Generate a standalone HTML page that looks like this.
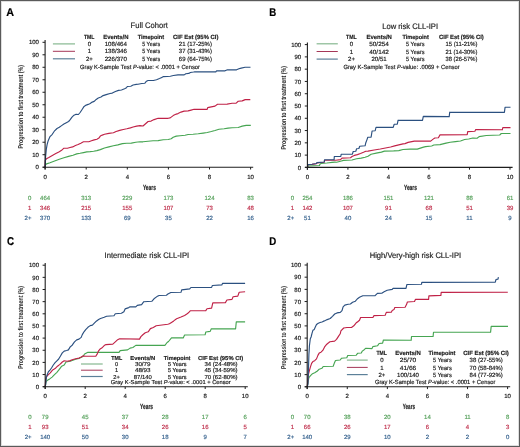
<!DOCTYPE html>
<html><head><meta charset="utf-8"><style>
html,body{margin:0;padding:0;background:#fff;}
body{width:520px;height:447px;overflow:hidden;font-family:"Liberation Sans",sans-serif;}
svg{display:block;will-change:transform;} text{text-rendering:geometricPrecision;}
</style></head><body>
<svg width="520" height="447" viewBox="0 0 520 447" font-family="Liberation Sans, sans-serif" fill="#222222">
<rect width="520" height="447" fill="#fff"/>
<text x="6.30" y="15.70" font-size="11.3" stroke="#000" stroke-width="0.18" font-weight="bold" fill="#000" textLength="7.80" lengthAdjust="spacingAndGlyphs">A</text>
<text x="130.60" y="28.30" font-size="8.0" stroke="#222222" stroke-width="0.18" textLength="37.30" lengthAdjust="spacingAndGlyphs">Full Cohort</text>
<path d="M45.10,167.20 L45.30,165.10 L46.50,163.90 L50.00,162.80 L54.60,161.00 L59.30,159.30 L63.90,157.80 L68.60,156.40 L73.00,155.20 L76.70,153.90 L80.10,153.30 L83.50,152.60 L86.80,151.90 L90.20,151.60 L93.60,151.20 L96.90,150.60 L100.30,149.60 L104.50,148.00 L108.90,146.90 L113.40,145.80 L117.90,144.90 L122.40,143.60 L126.80,143.30 L131.30,143.10 L135.80,142.20 L140.00,141.80 L143.00,141.80 L148.10,141.30 L153.10,140.80 L158.10,140.60 L163.20,139.80 L168.20,139.50 L171.20,138.80 L173.20,137.30 L176.30,136.10 L180.00,135.80 L185.10,135.30 L188.10,134.50 L193.10,134.30 L198.20,133.80 L203.20,133.10 L207.20,132.50 L211.30,131.50 L215.00,130.50 L219.00,129.30 L224.10,128.80 L228.10,128.10 L232.10,127.80 L238.20,127.50 L242.20,126.10 L246.20,125.40 L250.80,125.40" fill="none" stroke="#46a552" stroke-width="1.15" stroke-linejoin="round"/>
<path d="M45.10,167.20 L45.30,160.40 L46.50,158.70 L48.80,157.50 L52.30,155.40 L55.80,153.50 L59.30,151.70 L61.60,150.30 L63.90,148.20 L67.40,148.20 L70.00,147.50 L72.70,146.90 L75.40,145.50 L78.10,144.50 L80.80,143.20 L83.50,141.80 L88.80,141.70 L91.50,140.80 L94.20,139.90 L96.90,139.30 L98.90,138.10 L100.30,136.10 L102.30,135.10 L104.50,134.30 L108.90,133.40 L113.40,132.80 L116.10,131.50 L119.70,130.40 L123.30,129.50 L126.80,128.80 L130.40,127.90 L133.10,127.00 L136.70,126.10 L140.00,125.60 L143.00,126.00 L145.00,124.20 L148.10,121.50 L151.10,121.10 L154.10,119.60 L158.10,118.30 L168.20,118.30 L170.20,117.90 L173.20,115.60 L176.30,114.10 L178.00,113.60 L181.00,112.10 L184.10,111.10 L188.10,110.90 L191.10,110.10 L194.10,109.30 L207.20,109.30 L207.70,107.60 L211.30,106.90 L215.00,106.10 L217.50,104.30 L227.10,104.10 L232.10,103.30 L236.20,103.10 L238.20,101.30 L242.20,100.90 L245.20,99.60 L250.30,99.60" fill="none" stroke="#c02247" stroke-width="1.15" stroke-linejoin="round"/>
<path d="M45.10,167.20 L45.30,164.50 L45.60,156.40 L46.30,149.40 L47.10,144.70 L48.20,140.70 L50.00,136.60 L52.30,134.30 L54.60,130.80 L57.00,128.50 L59.30,127.30 L61.60,125.60 L63.90,124.00 L66.30,122.70 L68.60,121.50 L70.00,119.90 L72.00,117.20 L74.00,115.20 L76.10,114.20 L78.40,114.50 L80.10,112.50 L82.10,109.50 L84.10,106.40 L86.20,105.10 L88.20,104.40 L90.20,103.40 L92.20,102.10 L94.20,101.40 L96.20,99.40 L98.30,98.00 L101.00,97.00 L103.10,95.60 L106.20,94.60 L110.00,93.50 L112.30,93.10 L115.40,91.50 L118.50,90.40 L121.50,90.00 L124.60,88.80 L126.50,87.70 L127.30,86.50 L130.80,86.20 L133.10,85.00 L136.20,84.40 L138.00,84.30 L141.80,83.50 L144.90,83.20 L146.50,81.20 L148.00,80.50 L153.40,80.50 L156.50,79.70 L159.50,78.50 L161.80,77.40 L163.40,76.60 L167.20,76.50 L170.30,76.20 L173.40,75.50 L178.00,74.90 L184.20,74.90 L185.80,73.80 L188.80,73.40 L190.40,72.50 L193.50,72.00 L195.00,71.70 L215.80,71.80 L216.60,70.80 L225.10,70.80 L227.40,69.80 L236.60,69.80 L238.90,68.80 L241.20,68.10 L245.10,67.30 L250.50,67.20" fill="none" stroke="#2b5080" stroke-width="1.15" stroke-linejoin="round"/>
<line x1="45.10" y1="40.10" x2="45.10" y2="169.50" stroke="#1e1e1e" stroke-width="1.1"/>
<line x1="42.70" y1="167.20" x2="253.20" y2="167.20" stroke="#1e1e1e" stroke-width="1.1"/>
<line x1="42.50" y1="167.20" x2="45.10" y2="167.20" stroke="#1e1e1e" stroke-width="1.0"/>
<text x="38.90" y="169.35" font-size="6.0" stroke="#222222" stroke-width="0.18" text-anchor="end">0</text>
<line x1="42.50" y1="154.71" x2="45.10" y2="154.71" stroke="#1e1e1e" stroke-width="1.0"/>
<text x="38.90" y="156.86" font-size="6.0" stroke="#222222" stroke-width="0.18" text-anchor="end">10</text>
<line x1="42.50" y1="142.22" x2="45.10" y2="142.22" stroke="#1e1e1e" stroke-width="1.0"/>
<text x="38.90" y="144.37" font-size="6.0" stroke="#222222" stroke-width="0.18" text-anchor="end">20</text>
<line x1="42.50" y1="129.73" x2="45.10" y2="129.73" stroke="#1e1e1e" stroke-width="1.0"/>
<text x="38.90" y="131.88" font-size="6.0" stroke="#222222" stroke-width="0.18" text-anchor="end">30</text>
<line x1="42.50" y1="117.24" x2="45.10" y2="117.24" stroke="#1e1e1e" stroke-width="1.0"/>
<text x="38.90" y="119.39" font-size="6.0" stroke="#222222" stroke-width="0.18" text-anchor="end">40</text>
<line x1="42.50" y1="104.75" x2="45.10" y2="104.75" stroke="#1e1e1e" stroke-width="1.0"/>
<text x="38.90" y="106.90" font-size="6.0" stroke="#222222" stroke-width="0.18" text-anchor="end">50</text>
<line x1="42.50" y1="92.26" x2="45.10" y2="92.26" stroke="#1e1e1e" stroke-width="1.0"/>
<text x="38.90" y="94.41" font-size="6.0" stroke="#222222" stroke-width="0.18" text-anchor="end">60</text>
<line x1="42.50" y1="79.77" x2="45.10" y2="79.77" stroke="#1e1e1e" stroke-width="1.0"/>
<text x="38.90" y="81.92" font-size="6.0" stroke="#222222" stroke-width="0.18" text-anchor="end">70</text>
<line x1="42.50" y1="67.28" x2="45.10" y2="67.28" stroke="#1e1e1e" stroke-width="1.0"/>
<text x="38.90" y="69.43" font-size="6.0" stroke="#222222" stroke-width="0.18" text-anchor="end">80</text>
<line x1="42.50" y1="54.79" x2="45.10" y2="54.79" stroke="#1e1e1e" stroke-width="1.0"/>
<text x="38.90" y="56.94" font-size="6.0" stroke="#222222" stroke-width="0.18" text-anchor="end">90</text>
<line x1="42.50" y1="42.30" x2="45.10" y2="42.30" stroke="#1e1e1e" stroke-width="1.0"/>
<text x="38.90" y="44.45" font-size="6.0" stroke="#222222" stroke-width="0.18" text-anchor="end">100</text>
<line x1="45.10" y1="167.20" x2="45.10" y2="169.50" stroke="#1e1e1e" stroke-width="1.0"/>
<text x="45.10" y="178.55" font-size="6.0" stroke="#222222" stroke-width="0.18" text-anchor="middle">0</text>
<line x1="86.20" y1="167.20" x2="86.20" y2="169.50" stroke="#1e1e1e" stroke-width="1.0"/>
<text x="86.20" y="178.55" font-size="6.0" stroke="#222222" stroke-width="0.18" text-anchor="middle">2</text>
<line x1="127.30" y1="167.20" x2="127.30" y2="169.50" stroke="#1e1e1e" stroke-width="1.0"/>
<text x="127.30" y="178.55" font-size="6.0" stroke="#222222" stroke-width="0.18" text-anchor="middle">4</text>
<line x1="168.40" y1="167.20" x2="168.40" y2="169.50" stroke="#1e1e1e" stroke-width="1.0"/>
<text x="168.40" y="178.55" font-size="6.0" stroke="#222222" stroke-width="0.18" text-anchor="middle">6</text>
<line x1="209.50" y1="167.20" x2="209.50" y2="169.50" stroke="#1e1e1e" stroke-width="1.0"/>
<text x="209.50" y="178.55" font-size="6.0" stroke="#222222" stroke-width="0.18" text-anchor="middle">8</text>
<line x1="250.60" y1="167.20" x2="250.60" y2="169.50" stroke="#1e1e1e" stroke-width="1.0"/>
<text x="250.60" y="178.55" font-size="6.0" stroke="#222222" stroke-width="0.18" text-anchor="middle">10</text>
<text x="142.90" y="189.52" font-size="7.6" stroke="#222222" stroke-width="0.18" font-weight="bold" textLength="13.00" lengthAdjust="spacingAndGlyphs">Years</text>
<text transform="translate(23.30,106.80) rotate(-90)" x="-41.70" y="0" font-size="7" font-weight="bold" textLength="83.40" lengthAdjust="spacingAndGlyphs">Progression to first treatment (%)</text>
<text x="31.40" y="200.15" font-size="6.0" stroke="#5aa35f" stroke-width="0.18" fill="#5aa35f" text-anchor="end">0</text>
<text x="45.10" y="200.15" font-size="6.0" stroke="#5aa35f" stroke-width="0.18" fill="#5aa35f" text-anchor="middle">464</text>
<text x="86.20" y="200.15" font-size="6.0" stroke="#5aa35f" stroke-width="0.18" fill="#5aa35f" text-anchor="middle">313</text>
<text x="127.30" y="200.15" font-size="6.0" stroke="#5aa35f" stroke-width="0.18" fill="#5aa35f" text-anchor="middle">229</text>
<text x="168.40" y="200.15" font-size="6.0" stroke="#5aa35f" stroke-width="0.18" fill="#5aa35f" text-anchor="middle">173</text>
<text x="209.50" y="200.15" font-size="6.0" stroke="#5aa35f" stroke-width="0.18" fill="#5aa35f" text-anchor="middle">124</text>
<text x="250.60" y="200.15" font-size="6.0" stroke="#5aa35f" stroke-width="0.18" fill="#5aa35f" text-anchor="middle">83</text>
<text x="31.40" y="209.95" font-size="6.0" stroke="#c0334f" stroke-width="0.18" fill="#c0334f" text-anchor="end">1</text>
<text x="45.10" y="209.95" font-size="6.0" stroke="#c0334f" stroke-width="0.18" fill="#c0334f" text-anchor="middle">346</text>
<text x="86.20" y="209.95" font-size="6.0" stroke="#c0334f" stroke-width="0.18" fill="#c0334f" text-anchor="middle">215</text>
<text x="127.30" y="209.95" font-size="6.0" stroke="#c0334f" stroke-width="0.18" fill="#c0334f" text-anchor="middle">155</text>
<text x="168.40" y="209.95" font-size="6.0" stroke="#c0334f" stroke-width="0.18" fill="#c0334f" text-anchor="middle">107</text>
<text x="209.50" y="209.95" font-size="6.0" stroke="#c0334f" stroke-width="0.18" fill="#c0334f" text-anchor="middle">73</text>
<text x="250.60" y="209.95" font-size="6.0" stroke="#c0334f" stroke-width="0.18" fill="#c0334f" text-anchor="middle">48</text>
<text x="31.40" y="219.75" font-size="6.0" stroke="#3a6590" stroke-width="0.18" fill="#3a6590" text-anchor="end">2+</text>
<text x="45.10" y="219.75" font-size="6.0" stroke="#3a6590" stroke-width="0.18" fill="#3a6590" text-anchor="middle">370</text>
<text x="86.20" y="219.75" font-size="6.0" stroke="#3a6590" stroke-width="0.18" fill="#3a6590" text-anchor="middle">133</text>
<text x="127.30" y="219.75" font-size="6.0" stroke="#3a6590" stroke-width="0.18" fill="#3a6590" text-anchor="middle">69</text>
<text x="168.40" y="219.75" font-size="6.0" stroke="#3a6590" stroke-width="0.18" fill="#3a6590" text-anchor="middle">35</text>
<text x="209.50" y="219.75" font-size="6.0" stroke="#3a6590" stroke-width="0.18" fill="#3a6590" text-anchor="middle">22</text>
<text x="250.60" y="219.75" font-size="6.0" stroke="#3a6590" stroke-width="0.18" fill="#3a6590" text-anchor="middle">16</text>
<line x1="52.90" y1="43.90" x2="75.00" y2="43.90" stroke="#86b890" stroke-width="1.2"/>
<line x1="52.90" y1="51.30" x2="75.00" y2="51.30" stroke="#a02c4e" stroke-width="0.95"/>
<line x1="52.90" y1="58.80" x2="75.00" y2="58.80" stroke="#5c8099" stroke-width="1.2"/>
<text x="83.90" y="38.65" font-size="6.0" stroke="#222222" stroke-width="0.18" font-weight="bold" textLength="10.50" lengthAdjust="spacingAndGlyphs">TML</text>
<text x="103.20" y="38.65" font-size="6.0" stroke="#222222" stroke-width="0.18" font-weight="bold" textLength="25.30" lengthAdjust="spacingAndGlyphs">Events/N</text>
<text x="137.70" y="38.65" font-size="6.0" stroke="#222222" stroke-width="0.18" font-weight="bold" textLength="26.40" lengthAdjust="spacingAndGlyphs">Timepoint</text>
<text x="173.00" y="38.65" font-size="6.0" stroke="#222222" stroke-width="0.18" font-weight="bold" textLength="45.50" lengthAdjust="spacingAndGlyphs">CIF Est (95% CI)</text>
<text x="89.40" y="46.05" font-size="6.0" stroke="#222222" stroke-width="0.18" text-anchor="middle">0</text>
<text x="104.70" y="46.05" font-size="6.0" stroke="#222222" stroke-width="0.18" textLength="22.30" lengthAdjust="spacingAndGlyphs">108/464</text>
<text x="142.20" y="46.05" font-size="6.0" stroke="#222222" stroke-width="0.18" textLength="17.90" lengthAdjust="spacingAndGlyphs">5 Years</text>
<text x="178.80" y="46.05" font-size="6.0" stroke="#222222" stroke-width="0.18" textLength="33.20" lengthAdjust="spacingAndGlyphs">21 (17-25%)</text>
<text x="89.40" y="53.45" font-size="6.0" stroke="#222222" stroke-width="0.18" text-anchor="middle">1</text>
<text x="104.70" y="53.45" font-size="6.0" stroke="#222222" stroke-width="0.18" textLength="22.30" lengthAdjust="spacingAndGlyphs">138/346</text>
<text x="142.20" y="53.45" font-size="6.0" stroke="#222222" stroke-width="0.18" textLength="17.90" lengthAdjust="spacingAndGlyphs">5 Years</text>
<text x="178.80" y="53.45" font-size="6.0" stroke="#222222" stroke-width="0.18" textLength="33.20" lengthAdjust="spacingAndGlyphs">37 (31-43%)</text>
<text x="89.40" y="60.95" font-size="6.0" stroke="#222222" stroke-width="0.18" text-anchor="middle">2+</text>
<text x="104.70" y="60.95" font-size="6.0" stroke="#222222" stroke-width="0.18" textLength="22.30" lengthAdjust="spacingAndGlyphs">226/370</text>
<text x="142.20" y="60.95" font-size="6.0" stroke="#222222" stroke-width="0.18" textLength="17.90" lengthAdjust="spacingAndGlyphs">5 Years</text>
<text x="178.80" y="60.95" font-size="6.0" stroke="#222222" stroke-width="0.18" textLength="33.20" lengthAdjust="spacingAndGlyphs">69 (64-75%)</text>
<text x="80.10" y="68.75" font-size="6.0" stroke="#222222" stroke-width="0.18" textLength="119.80" lengthAdjust="spacingAndGlyphs">Gray K-Sample Test <tspan font-style="italic">P</tspan>-value: &lt; .0001 + Censor</text>
<text x="269.20" y="15.70" font-size="11.3" stroke="#000" stroke-width="0.18" font-weight="bold" fill="#000" textLength="7.00" lengthAdjust="spacingAndGlyphs">B</text>
<text x="382.30" y="28.60" font-size="8.0" stroke="#222222" stroke-width="0.18" textLength="55.70" lengthAdjust="spacingAndGlyphs">Low risk CLL-IPI</text>
<path d="M307.60,167.20 L308.00,166.00 L319.50,165.50 L319.80,164.40 L321.00,163.50 L326.80,163.00 L329.10,162.70 L332.00,162.40 L334.90,162.10 L336.60,162.20 L340.50,161.20 L343.50,160.40 L352.00,160.00 L356.60,158.80 L361.20,158.10 L365.10,157.30 L368.00,156.20 L371.10,154.20 L376.20,153.10 L381.40,152.10 L384.50,151.10 L393.70,150.90 L398.80,150.60 L403.00,149.50 L410.10,149.10 L417.30,149.10 L423.50,147.10 L425.60,146.60 L431.70,146.00 L433.80,145.00 L440.00,144.60 L446.10,143.10 L450.20,142.30 L455.40,141.60 L460.50,141.00 L464.60,139.50 L468.70,139.00 L472.90,138.00 L477.10,138.20 L479.10,136.60 L486.30,135.50 L499.70,135.00 L501.30,133.50 L510.50,133.50" fill="none" stroke="#46a552" stroke-width="1.15" stroke-linejoin="round"/>
<path d="M307.60,167.20 L307.80,164.80 L312.00,164.40 L316.40,163.70 L317.00,162.90 L324.30,162.20 L324.50,160.30 L334.10,160.20 L335.80,160.20 L340.50,159.60 L342.00,158.10 L350.50,157.70 L352.00,156.50 L354.30,155.40 L357.40,154.60 L360.50,153.50 L363.50,152.30 L365.80,151.20 L368.00,151.10 L374.20,150.00 L380.30,149.00 L385.50,148.00 L390.60,147.00 L394.70,145.90 L398.80,144.90 L403.00,143.90 L405.00,143.60 L408.10,142.40 L414.30,141.10 L430.70,141.10 L432.80,139.40 L434.80,138.00 L438.40,137.80 L440.00,134.90 L467.20,134.70 L467.70,131.60 L474.90,131.30 L475.70,129.60 L502.30,129.80 L502.80,127.60 L510.50,127.60" fill="none" stroke="#c02247" stroke-width="1.15" stroke-linejoin="round"/>
<path d="M307.60,167.20 L307.80,164.60 L312.00,164.20 L316.40,163.50 L317.00,162.60 L324.30,162.00 L324.50,159.80 L334.10,159.70 L334.30,156.50 L340.80,156.50 L341.20,154.20 L352.40,154.20 L353.20,151.50 L355.80,151.20 L356.60,148.80 L358.90,148.50 L359.70,146.20 L365.10,145.80 L365.80,142.70 L367.00,139.60 L367.80,137.30 L371.10,137.20 L372.10,131.00 L375.20,130.70 L376.00,127.40 L393.20,127.40 L394.20,124.30 L397.30,124.10 L398.10,120.20 L422.50,120.30 L423.30,116.40 L449.20,116.60 L449.70,112.20 L504.40,112.40 L505.10,107.20 L510.50,107.20" fill="none" stroke="#2b5080" stroke-width="1.15" stroke-linejoin="round"/>
<line x1="307.40" y1="42.40" x2="307.40" y2="169.70" stroke="#1e1e1e" stroke-width="1.1"/>
<line x1="305.00" y1="167.40" x2="512.60" y2="167.40" stroke="#1e1e1e" stroke-width="1.1"/>
<line x1="304.80" y1="167.40" x2="307.40" y2="167.40" stroke="#1e1e1e" stroke-width="1.0"/>
<text x="301.20" y="169.55" font-size="6.0" stroke="#222222" stroke-width="0.18" text-anchor="end">0</text>
<line x1="304.80" y1="155.12" x2="307.40" y2="155.12" stroke="#1e1e1e" stroke-width="1.0"/>
<text x="301.20" y="157.27" font-size="6.0" stroke="#222222" stroke-width="0.18" text-anchor="end">10</text>
<line x1="304.80" y1="142.84" x2="307.40" y2="142.84" stroke="#1e1e1e" stroke-width="1.0"/>
<text x="301.20" y="144.99" font-size="6.0" stroke="#222222" stroke-width="0.18" text-anchor="end">20</text>
<line x1="304.80" y1="130.56" x2="307.40" y2="130.56" stroke="#1e1e1e" stroke-width="1.0"/>
<text x="301.20" y="132.71" font-size="6.0" stroke="#222222" stroke-width="0.18" text-anchor="end">30</text>
<line x1="304.80" y1="118.28" x2="307.40" y2="118.28" stroke="#1e1e1e" stroke-width="1.0"/>
<text x="301.20" y="120.43" font-size="6.0" stroke="#222222" stroke-width="0.18" text-anchor="end">40</text>
<line x1="304.80" y1="106.00" x2="307.40" y2="106.00" stroke="#1e1e1e" stroke-width="1.0"/>
<text x="301.20" y="108.15" font-size="6.0" stroke="#222222" stroke-width="0.18" text-anchor="end">50</text>
<line x1="304.80" y1="93.72" x2="307.40" y2="93.72" stroke="#1e1e1e" stroke-width="1.0"/>
<text x="301.20" y="95.87" font-size="6.0" stroke="#222222" stroke-width="0.18" text-anchor="end">60</text>
<line x1="304.80" y1="81.44" x2="307.40" y2="81.44" stroke="#1e1e1e" stroke-width="1.0"/>
<text x="301.20" y="83.59" font-size="6.0" stroke="#222222" stroke-width="0.18" text-anchor="end">70</text>
<line x1="304.80" y1="69.16" x2="307.40" y2="69.16" stroke="#1e1e1e" stroke-width="1.0"/>
<text x="301.20" y="71.31" font-size="6.0" stroke="#222222" stroke-width="0.18" text-anchor="end">80</text>
<line x1="304.80" y1="56.88" x2="307.40" y2="56.88" stroke="#1e1e1e" stroke-width="1.0"/>
<text x="301.20" y="59.03" font-size="6.0" stroke="#222222" stroke-width="0.18" text-anchor="end">90</text>
<line x1="304.80" y1="44.60" x2="307.40" y2="44.60" stroke="#1e1e1e" stroke-width="1.0"/>
<text x="301.20" y="46.75" font-size="6.0" stroke="#222222" stroke-width="0.18" text-anchor="end">100</text>
<line x1="307.40" y1="167.40" x2="307.40" y2="169.70" stroke="#1e1e1e" stroke-width="1.0"/>
<text x="307.40" y="178.55" font-size="6.0" stroke="#222222" stroke-width="0.18" text-anchor="middle">0</text>
<line x1="347.92" y1="167.40" x2="347.92" y2="169.70" stroke="#1e1e1e" stroke-width="1.0"/>
<text x="347.92" y="178.55" font-size="6.0" stroke="#222222" stroke-width="0.18" text-anchor="middle">2</text>
<line x1="388.44" y1="167.40" x2="388.44" y2="169.70" stroke="#1e1e1e" stroke-width="1.0"/>
<text x="388.44" y="178.55" font-size="6.0" stroke="#222222" stroke-width="0.18" text-anchor="middle">4</text>
<line x1="428.96" y1="167.40" x2="428.96" y2="169.70" stroke="#1e1e1e" stroke-width="1.0"/>
<text x="428.96" y="178.55" font-size="6.0" stroke="#222222" stroke-width="0.18" text-anchor="middle">6</text>
<line x1="469.48" y1="167.40" x2="469.48" y2="169.70" stroke="#1e1e1e" stroke-width="1.0"/>
<text x="469.48" y="178.55" font-size="6.0" stroke="#222222" stroke-width="0.18" text-anchor="middle">8</text>
<line x1="510.00" y1="167.40" x2="510.00" y2="169.70" stroke="#1e1e1e" stroke-width="1.0"/>
<text x="510.00" y="178.55" font-size="6.0" stroke="#222222" stroke-width="0.18" text-anchor="middle">10</text>
<text x="403.90" y="189.52" font-size="7.6" stroke="#222222" stroke-width="0.18" font-weight="bold" textLength="13.10" lengthAdjust="spacingAndGlyphs">Years</text>
<text transform="translate(285.50,107.80) rotate(-90)" x="-41.70" y="0" font-size="7" font-weight="bold" textLength="83.40" lengthAdjust="spacingAndGlyphs">Progression to first treatment (%)</text>
<text x="294.20" y="200.15" font-size="6.0" stroke="#5aa35f" stroke-width="0.18" fill="#5aa35f" text-anchor="end">0</text>
<text x="307.40" y="200.15" font-size="6.0" stroke="#5aa35f" stroke-width="0.18" fill="#5aa35f" text-anchor="middle">254</text>
<text x="347.92" y="200.15" font-size="6.0" stroke="#5aa35f" stroke-width="0.18" fill="#5aa35f" text-anchor="middle">186</text>
<text x="388.44" y="200.15" font-size="6.0" stroke="#5aa35f" stroke-width="0.18" fill="#5aa35f" text-anchor="middle">151</text>
<text x="428.96" y="200.15" font-size="6.0" stroke="#5aa35f" stroke-width="0.18" fill="#5aa35f" text-anchor="middle">121</text>
<text x="469.48" y="200.15" font-size="6.0" stroke="#5aa35f" stroke-width="0.18" fill="#5aa35f" text-anchor="middle">88</text>
<text x="510.00" y="200.15" font-size="6.0" stroke="#5aa35f" stroke-width="0.18" fill="#5aa35f" text-anchor="middle">61</text>
<text x="294.20" y="209.95" font-size="6.0" stroke="#c0334f" stroke-width="0.18" fill="#c0334f" text-anchor="end">1</text>
<text x="307.40" y="209.95" font-size="6.0" stroke="#c0334f" stroke-width="0.18" fill="#c0334f" text-anchor="middle">142</text>
<text x="347.92" y="209.95" font-size="6.0" stroke="#c0334f" stroke-width="0.18" fill="#c0334f" text-anchor="middle">107</text>
<text x="388.44" y="209.95" font-size="6.0" stroke="#c0334f" stroke-width="0.18" fill="#c0334f" text-anchor="middle">91</text>
<text x="428.96" y="209.95" font-size="6.0" stroke="#c0334f" stroke-width="0.18" fill="#c0334f" text-anchor="middle">68</text>
<text x="469.48" y="209.95" font-size="6.0" stroke="#c0334f" stroke-width="0.18" fill="#c0334f" text-anchor="middle">51</text>
<text x="510.00" y="209.95" font-size="6.0" stroke="#c0334f" stroke-width="0.18" fill="#c0334f" text-anchor="middle">39</text>
<text x="294.20" y="219.75" font-size="6.0" stroke="#3a6590" stroke-width="0.18" fill="#3a6590" text-anchor="end">2+</text>
<text x="307.40" y="219.75" font-size="6.0" stroke="#3a6590" stroke-width="0.18" fill="#3a6590" text-anchor="middle">51</text>
<text x="347.92" y="219.75" font-size="6.0" stroke="#3a6590" stroke-width="0.18" fill="#3a6590" text-anchor="middle">40</text>
<text x="388.44" y="219.75" font-size="6.0" stroke="#3a6590" stroke-width="0.18" fill="#3a6590" text-anchor="middle">24</text>
<text x="428.96" y="219.75" font-size="6.0" stroke="#3a6590" stroke-width="0.18" fill="#3a6590" text-anchor="middle">15</text>
<text x="469.48" y="219.75" font-size="6.0" stroke="#3a6590" stroke-width="0.18" fill="#3a6590" text-anchor="middle">11</text>
<text x="510.00" y="219.75" font-size="6.0" stroke="#3a6590" stroke-width="0.18" fill="#3a6590" text-anchor="middle">9</text>
<line x1="316.60" y1="43.80" x2="337.80" y2="43.80" stroke="#86b890" stroke-width="1.2"/>
<line x1="316.60" y1="51.50" x2="337.80" y2="51.50" stroke="#a02c4e" stroke-width="0.95"/>
<line x1="316.60" y1="59.10" x2="337.80" y2="59.10" stroke="#5c8099" stroke-width="1.2"/>
<text x="346.00" y="38.55" font-size="6.0" stroke="#222222" stroke-width="0.18" font-weight="bold" textLength="10.60" lengthAdjust="spacingAndGlyphs">TML</text>
<text x="366.60" y="38.55" font-size="6.0" stroke="#222222" stroke-width="0.18" font-weight="bold" textLength="25.30" lengthAdjust="spacingAndGlyphs">Events/N</text>
<text x="402.50" y="38.55" font-size="6.0" stroke="#222222" stroke-width="0.18" font-weight="bold" textLength="26.30" lengthAdjust="spacingAndGlyphs">Timepoint</text>
<text x="439.10" y="38.55" font-size="6.0" stroke="#222222" stroke-width="0.18" font-weight="bold" textLength="44.70" lengthAdjust="spacingAndGlyphs">CIF Est (95% CI)</text>
<text x="351.50" y="45.95" font-size="6.0" stroke="#222222" stroke-width="0.18" text-anchor="middle">0</text>
<text x="369.20" y="45.95" font-size="6.0" stroke="#222222" stroke-width="0.18" textLength="19.70" lengthAdjust="spacingAndGlyphs">50/254</text>
<text x="406.10" y="45.95" font-size="6.0" stroke="#222222" stroke-width="0.18" textLength="18.40" lengthAdjust="spacingAndGlyphs">5 Years</text>
<text x="445.50" y="45.95" font-size="6.0" stroke="#222222" stroke-width="0.18" textLength="31.90" lengthAdjust="spacingAndGlyphs">15 (11-21%)</text>
<text x="351.50" y="53.65" font-size="6.0" stroke="#222222" stroke-width="0.18" text-anchor="middle">1</text>
<text x="369.20" y="53.65" font-size="6.0" stroke="#222222" stroke-width="0.18" textLength="19.70" lengthAdjust="spacingAndGlyphs">40/142</text>
<text x="406.10" y="53.65" font-size="6.0" stroke="#222222" stroke-width="0.18" textLength="18.40" lengthAdjust="spacingAndGlyphs">5 Years</text>
<text x="445.50" y="53.65" font-size="6.0" stroke="#222222" stroke-width="0.18" textLength="31.90" lengthAdjust="spacingAndGlyphs">21 (14-30%)</text>
<text x="351.50" y="61.25" font-size="6.0" stroke="#222222" stroke-width="0.18" text-anchor="middle">2+</text>
<text x="371.50" y="61.25" font-size="6.0" stroke="#222222" stroke-width="0.18" textLength="15.10" lengthAdjust="spacingAndGlyphs">20/51</text>
<text x="406.10" y="61.25" font-size="6.0" stroke="#222222" stroke-width="0.18" textLength="18.40" lengthAdjust="spacingAndGlyphs">5 Years</text>
<text x="445.50" y="61.25" font-size="6.0" stroke="#222222" stroke-width="0.18" textLength="31.90" lengthAdjust="spacingAndGlyphs">38 (26-57%)</text>
<text x="343.40" y="68.85" font-size="6.0" stroke="#222222" stroke-width="0.18" textLength="116.30" lengthAdjust="spacingAndGlyphs">Gray K-Sample Test <tspan font-style="italic">P</tspan>-value: .0069 + Censor</text>
<text x="7.00" y="245.00" font-size="11.3" stroke="#000" stroke-width="0.18" font-weight="bold" fill="#000" textLength="7.10" lengthAdjust="spacingAndGlyphs">C</text>
<text x="104.60" y="258.00" font-size="8.0" stroke="#222222" stroke-width="0.18" textLength="84.60" lengthAdjust="spacingAndGlyphs">Intermediate risk CLL-IPI</text>
<path d="M45.20,386.70 L46.00,381.50 L47.80,380.10 L49.70,378.90 L52.10,377.10 L54.50,374.70 L56.90,372.30 L59.30,369.30 L61.70,366.20 L64.20,365.00 L66.00,362.00 L67.50,361.80 L70.20,361.20 L75.60,359.30 L79.00,358.50 L82.90,356.50 L84.60,354.00 L87.90,352.20 L119.00,352.40 L120.20,350.60 L127.60,349.90 L130.10,348.10 L132.90,347.50 L135.80,345.40 L164.90,345.40 L167.10,342.50 L168.50,341.50 L171.50,337.90 L183.20,337.90 L184.60,335.00 L205.10,334.80 L205.80,332.00 L210.20,331.40 L211.30,328.80 L235.60,328.80 L236.30,321.80 L245.10,321.80" fill="none" stroke="#46a552" stroke-width="1.15" stroke-linejoin="round"/>
<path d="M45.20,386.70 L45.70,379.50 L46.60,376.50 L48.40,374.70 L50.30,372.90 L52.70,369.90 L55.10,368.60 L57.50,366.20 L59.90,364.40 L62.30,362.00 L64.20,360.80 L67.20,361.20 L70.20,360.60 L72.20,359.80 L75.60,358.70 L79.00,358.10 L81.20,357.00 L82.90,355.90 L85.70,356.20 L95.80,356.20 L97.40,353.60 L98.60,350.80 L99.80,349.30 L101.70,348.10 L104.20,345.60 L106.00,344.60 L112.80,344.10 L115.30,341.90 L117.70,339.70 L119.60,338.80 L139.50,339.10 L140.90,336.60 L143.10,334.50 L145.30,332.70 L148.20,331.80 L150.40,328.60 L153.30,327.50 L156.20,325.70 L162.00,325.00 L167.80,324.30 L169.40,323.80 L171.50,322.40 L173.70,320.90 L176.60,318.70 L181.00,317.00 L184.60,315.50 L186.80,314.10 L189.00,312.20 L190.50,310.70 L205.80,310.60 L207.00,308.70 L211.60,308.10 L212.80,302.90 L225.40,302.60 L226.90,300.00 L232.00,299.40 L233.10,296.80 L237.80,296.10 L239.20,292.20 L245.10,291.70" fill="none" stroke="#c02247" stroke-width="1.15" stroke-linejoin="round"/>
<path d="M45.20,386.70 L45.70,384.40 L46.40,377.10 L47.20,374.70 L48.40,371.70 L49.70,370.50 L51.50,368.00 L53.30,365.00 L55.10,362.60 L56.90,360.80 L58.70,359.00 L60.50,356.00 L62.30,352.90 L64.20,351.10 L66.60,350.50 L68.40,349.90 L70.20,346.90 L72.20,345.20 L74.50,341.90 L76.70,339.90 L79.00,339.10 L81.20,337.40 L82.30,334.60 L84.00,331.80 L85.70,329.60 L87.90,327.30 L90.20,325.60 L92.40,325.10 L94.10,323.40 L96.30,321.20 L98.60,319.50 L100.50,318.50 L104.20,317.30 L106.60,316.30 L114.00,315.80 L115.30,313.80 L121.40,313.30 L123.90,311.70 L125.10,308.90 L128.80,307.60 L130.10,306.80 L135.80,306.80 L137.30,305.40 L141.60,304.60 L143.80,301.70 L151.80,301.30 L154.00,298.80 L156.90,296.60 L159.10,295.50 L166.40,295.20 L167.90,294.00 L170.80,292.50 L181.00,292.30 L181.70,289.90 L189.70,288.90 L190.90,287.50 L211.60,287.40 L212.40,285.50 L221.80,284.90 L222.50,283.40 L245.10,283.40" fill="none" stroke="#2b5080" stroke-width="1.15" stroke-linejoin="round"/>
<line x1="45.20" y1="263.00" x2="45.20" y2="389.00" stroke="#1e1e1e" stroke-width="1.1"/>
<line x1="42.80" y1="386.70" x2="247.80" y2="386.70" stroke="#1e1e1e" stroke-width="1.1"/>
<line x1="42.60" y1="386.70" x2="45.20" y2="386.70" stroke="#1e1e1e" stroke-width="1.0"/>
<text x="39.00" y="388.85" font-size="6.0" stroke="#222222" stroke-width="0.18" text-anchor="end">0</text>
<line x1="42.60" y1="374.55" x2="45.20" y2="374.55" stroke="#1e1e1e" stroke-width="1.0"/>
<text x="39.00" y="376.70" font-size="6.0" stroke="#222222" stroke-width="0.18" text-anchor="end">10</text>
<line x1="42.60" y1="362.40" x2="45.20" y2="362.40" stroke="#1e1e1e" stroke-width="1.0"/>
<text x="39.00" y="364.55" font-size="6.0" stroke="#222222" stroke-width="0.18" text-anchor="end">20</text>
<line x1="42.60" y1="350.25" x2="45.20" y2="350.25" stroke="#1e1e1e" stroke-width="1.0"/>
<text x="39.00" y="352.40" font-size="6.0" stroke="#222222" stroke-width="0.18" text-anchor="end">30</text>
<line x1="42.60" y1="338.10" x2="45.20" y2="338.10" stroke="#1e1e1e" stroke-width="1.0"/>
<text x="39.00" y="340.25" font-size="6.0" stroke="#222222" stroke-width="0.18" text-anchor="end">40</text>
<line x1="42.60" y1="325.95" x2="45.20" y2="325.95" stroke="#1e1e1e" stroke-width="1.0"/>
<text x="39.00" y="328.10" font-size="6.0" stroke="#222222" stroke-width="0.18" text-anchor="end">50</text>
<line x1="42.60" y1="313.80" x2="45.20" y2="313.80" stroke="#1e1e1e" stroke-width="1.0"/>
<text x="39.00" y="315.95" font-size="6.0" stroke="#222222" stroke-width="0.18" text-anchor="end">60</text>
<line x1="42.60" y1="301.65" x2="45.20" y2="301.65" stroke="#1e1e1e" stroke-width="1.0"/>
<text x="39.00" y="303.80" font-size="6.0" stroke="#222222" stroke-width="0.18" text-anchor="end">70</text>
<line x1="42.60" y1="289.50" x2="45.20" y2="289.50" stroke="#1e1e1e" stroke-width="1.0"/>
<text x="39.00" y="291.65" font-size="6.0" stroke="#222222" stroke-width="0.18" text-anchor="end">80</text>
<line x1="42.60" y1="277.35" x2="45.20" y2="277.35" stroke="#1e1e1e" stroke-width="1.0"/>
<text x="39.00" y="279.50" font-size="6.0" stroke="#222222" stroke-width="0.18" text-anchor="end">90</text>
<line x1="42.60" y1="265.20" x2="45.20" y2="265.20" stroke="#1e1e1e" stroke-width="1.0"/>
<text x="39.00" y="267.35" font-size="6.0" stroke="#222222" stroke-width="0.18" text-anchor="end">100</text>
<line x1="45.20" y1="386.70" x2="45.20" y2="389.00" stroke="#1e1e1e" stroke-width="1.0"/>
<text x="45.20" y="397.95" font-size="6.0" stroke="#222222" stroke-width="0.18" text-anchor="middle">0</text>
<line x1="85.20" y1="386.70" x2="85.20" y2="389.00" stroke="#1e1e1e" stroke-width="1.0"/>
<text x="85.20" y="397.95" font-size="6.0" stroke="#222222" stroke-width="0.18" text-anchor="middle">2</text>
<line x1="125.20" y1="386.70" x2="125.20" y2="389.00" stroke="#1e1e1e" stroke-width="1.0"/>
<text x="125.20" y="397.95" font-size="6.0" stroke="#222222" stroke-width="0.18" text-anchor="middle">4</text>
<line x1="165.20" y1="386.70" x2="165.20" y2="389.00" stroke="#1e1e1e" stroke-width="1.0"/>
<text x="165.20" y="397.95" font-size="6.0" stroke="#222222" stroke-width="0.18" text-anchor="middle">6</text>
<line x1="205.20" y1="386.70" x2="205.20" y2="389.00" stroke="#1e1e1e" stroke-width="1.0"/>
<text x="205.20" y="397.95" font-size="6.0" stroke="#222222" stroke-width="0.18" text-anchor="middle">8</text>
<line x1="245.20" y1="386.70" x2="245.20" y2="389.00" stroke="#1e1e1e" stroke-width="1.0"/>
<text x="245.20" y="397.95" font-size="6.0" stroke="#222222" stroke-width="0.18" text-anchor="middle">10</text>
<text x="140.00" y="408.92" font-size="7.6" stroke="#222222" stroke-width="0.18" font-weight="bold" textLength="13.00" lengthAdjust="spacingAndGlyphs">Years</text>
<text transform="translate(23.30,327.40) rotate(-90)" x="-41.35" y="0" font-size="7" font-weight="bold" textLength="82.70" lengthAdjust="spacingAndGlyphs">Progression to first treatment (%)</text>
<text x="31.50" y="419.25" font-size="6.0" stroke="#5aa35f" stroke-width="0.18" fill="#5aa35f" text-anchor="end">0</text>
<text x="45.20" y="419.25" font-size="6.0" stroke="#5aa35f" stroke-width="0.18" fill="#5aa35f" text-anchor="middle">79</text>
<text x="85.20" y="419.25" font-size="6.0" stroke="#5aa35f" stroke-width="0.18" fill="#5aa35f" text-anchor="middle">45</text>
<text x="125.20" y="419.25" font-size="6.0" stroke="#5aa35f" stroke-width="0.18" fill="#5aa35f" text-anchor="middle">37</text>
<text x="165.20" y="419.25" font-size="6.0" stroke="#5aa35f" stroke-width="0.18" fill="#5aa35f" text-anchor="middle">28</text>
<text x="205.20" y="419.25" font-size="6.0" stroke="#5aa35f" stroke-width="0.18" fill="#5aa35f" text-anchor="middle">17</text>
<text x="245.20" y="419.25" font-size="6.0" stroke="#5aa35f" stroke-width="0.18" fill="#5aa35f" text-anchor="middle">6</text>
<text x="31.50" y="429.05" font-size="6.0" stroke="#c0334f" stroke-width="0.18" fill="#c0334f" text-anchor="end">1</text>
<text x="45.20" y="429.05" font-size="6.0" stroke="#c0334f" stroke-width="0.18" fill="#c0334f" text-anchor="middle">93</text>
<text x="85.20" y="429.05" font-size="6.0" stroke="#c0334f" stroke-width="0.18" fill="#c0334f" text-anchor="middle">51</text>
<text x="125.20" y="429.05" font-size="6.0" stroke="#c0334f" stroke-width="0.18" fill="#c0334f" text-anchor="middle">34</text>
<text x="165.20" y="429.05" font-size="6.0" stroke="#c0334f" stroke-width="0.18" fill="#c0334f" text-anchor="middle">26</text>
<text x="205.20" y="429.05" font-size="6.0" stroke="#c0334f" stroke-width="0.18" fill="#c0334f" text-anchor="middle">16</text>
<text x="245.20" y="429.05" font-size="6.0" stroke="#c0334f" stroke-width="0.18" fill="#c0334f" text-anchor="middle">5</text>
<text x="31.50" y="438.75" font-size="6.0" stroke="#3a6590" stroke-width="0.18" fill="#3a6590" text-anchor="end">2+</text>
<text x="45.20" y="438.75" font-size="6.0" stroke="#3a6590" stroke-width="0.18" fill="#3a6590" text-anchor="middle">140</text>
<text x="85.20" y="438.75" font-size="6.0" stroke="#3a6590" stroke-width="0.18" fill="#3a6590" text-anchor="middle">50</text>
<text x="125.20" y="438.75" font-size="6.0" stroke="#3a6590" stroke-width="0.18" fill="#3a6590" text-anchor="middle">30</text>
<text x="165.20" y="438.75" font-size="6.0" stroke="#3a6590" stroke-width="0.18" fill="#3a6590" text-anchor="middle">18</text>
<text x="205.20" y="438.75" font-size="6.0" stroke="#3a6590" stroke-width="0.18" fill="#3a6590" text-anchor="middle">9</text>
<text x="245.20" y="438.75" font-size="6.0" stroke="#3a6590" stroke-width="0.18" fill="#3a6590" text-anchor="middle">7</text>
<line x1="81.00" y1="364.00" x2="102.70" y2="364.00" stroke="#86b890" stroke-width="1.2"/>
<line x1="81.00" y1="370.20" x2="102.70" y2="370.20" stroke="#a02c4e" stroke-width="0.95"/>
<line x1="81.00" y1="376.50" x2="102.70" y2="376.50" stroke="#5c8099" stroke-width="1.2"/>
<text x="111.30" y="359.64" font-size="5.7" stroke="#222222" stroke-width="0.18" font-weight="bold" textLength="10.90" lengthAdjust="spacingAndGlyphs">TML</text>
<text x="130.30" y="359.64" font-size="5.7" stroke="#222222" stroke-width="0.18" font-weight="bold" textLength="24.90" lengthAdjust="spacingAndGlyphs">Events/N</text>
<text x="163.80" y="359.64" font-size="5.7" stroke="#222222" stroke-width="0.18" font-weight="bold" textLength="26.70" lengthAdjust="spacingAndGlyphs">Timepoint</text>
<text x="198.00" y="359.64" font-size="5.7" stroke="#222222" stroke-width="0.18" font-weight="bold" textLength="45.10" lengthAdjust="spacingAndGlyphs">CIF Est (95% CI)</text>
<text x="116.60" y="366.04" font-size="5.7" stroke="#222222" stroke-width="0.18" text-anchor="middle">0</text>
<text x="134.90" y="366.04" font-size="5.7" stroke="#222222" stroke-width="0.18" textLength="15.70" lengthAdjust="spacingAndGlyphs">30/79</text>
<text x="168.10" y="366.04" font-size="5.7" stroke="#222222" stroke-width="0.18" textLength="18.40" lengthAdjust="spacingAndGlyphs">5 Years</text>
<text x="204.40" y="366.04" font-size="5.7" stroke="#222222" stroke-width="0.18" textLength="33.20" lengthAdjust="spacingAndGlyphs">34 (24-48%)</text>
<text x="116.60" y="372.24" font-size="5.7" stroke="#222222" stroke-width="0.18" text-anchor="middle">1</text>
<text x="134.90" y="372.24" font-size="5.7" stroke="#222222" stroke-width="0.18" textLength="15.70" lengthAdjust="spacingAndGlyphs">48/93</text>
<text x="168.10" y="372.24" font-size="5.7" stroke="#222222" stroke-width="0.18" textLength="18.40" lengthAdjust="spacingAndGlyphs">5 Years</text>
<text x="204.40" y="372.24" font-size="5.7" stroke="#222222" stroke-width="0.18" textLength="33.20" lengthAdjust="spacingAndGlyphs">45 (34-59%)</text>
<text x="116.60" y="378.54" font-size="5.7" stroke="#222222" stroke-width="0.18" text-anchor="middle">2+</text>
<text x="133.80" y="378.54" font-size="5.7" stroke="#222222" stroke-width="0.18" textLength="18.10" lengthAdjust="spacingAndGlyphs">87/140</text>
<text x="168.10" y="378.54" font-size="5.7" stroke="#222222" stroke-width="0.18" textLength="18.40" lengthAdjust="spacingAndGlyphs">5 Years</text>
<text x="204.40" y="378.54" font-size="5.7" stroke="#222222" stroke-width="0.18" textLength="33.20" lengthAdjust="spacingAndGlyphs">70 (62-80%)</text>
<text x="110.80" y="384.44" font-size="5.7" stroke="#222222" stroke-width="0.18" textLength="119.90" lengthAdjust="spacingAndGlyphs">Gray K-Sample Test <tspan font-style="italic">P</tspan>-value: &lt; .0001 + Censor</text>
<text x="269.20" y="245.00" font-size="11.3" stroke="#000" stroke-width="0.18" font-weight="bold" fill="#000" textLength="7.00" lengthAdjust="spacingAndGlyphs">D</text>
<text x="369.70" y="258.00" font-size="8.0" stroke="#222222" stroke-width="0.18" textLength="91.40" lengthAdjust="spacingAndGlyphs">High/Very-high risk CLL-IPI</text>
<path d="M307.20,386.80 L308.00,382.20 L308.90,377.70 L310.30,375.90 L312.50,373.70 L314.70,372.80 L317.40,371.00 L319.20,369.20 L321.90,368.30 L323.20,366.50 L333.20,366.20 L334.60,362.40 L335.50,360.50 L340.20,360.00 L341.60,358.20 L346.80,357.70 L347.70,355.50 L356.20,355.20 L357.60,353.30 L361.30,353.00 L362.30,351.10 L364.20,349.70 L365.60,348.30 L372.00,348.60 L372.80,346.60 L377.50,345.80 L379.10,343.50 L382.60,343.10 L383.40,340.00 L411.20,340.30 L411.50,336.50 L433.10,336.50 L433.50,332.20 L490.60,332.10 L491.20,326.30 L508.00,326.30" fill="none" stroke="#46a552" stroke-width="1.15" stroke-linejoin="round"/>
<path d="M307.20,386.80 L308.00,379.50 L308.50,374.10 L309.40,370.60 L310.30,367.40 L311.60,363.40 L312.90,361.60 L314.70,360.70 L316.50,358.90 L317.90,355.40 L319.20,353.10 L321.00,352.20 L322.80,350.40 L324.60,346.90 L326.80,344.20 L328.60,342.80 L329.90,341.70 L334.60,341.10 L336.50,339.40 L338.30,336.60 L340.20,333.80 L340.90,330.80 L343.70,328.00 L347.00,327.50 L351.50,327.50 L353.80,325.80 L356.60,322.40 L357.20,322.20 L359.50,320.30 L360.60,317.50 L372.90,317.50 L374.00,315.60 L385.20,315.20 L386.30,312.40 L391.30,312.20 L392.20,310.50 L394.00,309.60 L394.80,307.50 L405.10,307.30 L406.50,304.60 L407.40,302.00 L414.50,301.50 L415.40,299.40 L428.60,299.40 L428.90,295.90 L440.90,295.40 L441.20,292.30 L507.80,292.20" fill="none" stroke="#c02247" stroke-width="1.15" stroke-linejoin="round"/>
<path d="M307.20,386.80 L308.00,384.00 L308.50,367.90 L308.90,354.50 L309.20,350.00 L309.40,346.00 L310.30,338.80 L311.10,337.00 L312.00,333.40 L312.90,330.30 L314.30,329.40 L315.20,327.20 L316.50,324.50 L318.30,323.20 L320.10,322.50 L321.90,322.00 L323.20,321.40 L325.40,320.50 L327.20,319.60 L330.20,318.50 L332.50,316.30 L334.70,314.00 L337.00,312.90 L340.30,312.40 L342.00,310.70 L343.10,306.80 L344.80,305.10 L348.20,304.20 L350.40,304.00 L352.60,302.30 L355.40,301.20 L357.20,299.00 L359.50,297.30 L362.80,295.70 L375.10,295.70 L377.40,293.40 L381.80,293.20 L384.10,291.70 L387.20,290.30 L392.20,289.40 L393.10,288.30 L406.00,288.30 L406.90,284.50 L421.50,284.30 L421.80,282.30 L495.30,282.20 L496.00,279.50 L498.00,279.10 L498.40,277.10" fill="none" stroke="#2b5080" stroke-width="1.15" stroke-linejoin="round"/>
<line x1="307.20" y1="262.80" x2="307.20" y2="389.10" stroke="#1e1e1e" stroke-width="1.1"/>
<line x1="304.80" y1="386.80" x2="510.20" y2="386.80" stroke="#1e1e1e" stroke-width="1.1"/>
<line x1="304.60" y1="386.80" x2="307.20" y2="386.80" stroke="#1e1e1e" stroke-width="1.0"/>
<text x="301.00" y="388.95" font-size="6.0" stroke="#222222" stroke-width="0.18" text-anchor="end">0</text>
<line x1="304.60" y1="374.62" x2="307.20" y2="374.62" stroke="#1e1e1e" stroke-width="1.0"/>
<text x="301.00" y="376.77" font-size="6.0" stroke="#222222" stroke-width="0.18" text-anchor="end">10</text>
<line x1="304.60" y1="362.44" x2="307.20" y2="362.44" stroke="#1e1e1e" stroke-width="1.0"/>
<text x="301.00" y="364.59" font-size="6.0" stroke="#222222" stroke-width="0.18" text-anchor="end">20</text>
<line x1="304.60" y1="350.26" x2="307.20" y2="350.26" stroke="#1e1e1e" stroke-width="1.0"/>
<text x="301.00" y="352.41" font-size="6.0" stroke="#222222" stroke-width="0.18" text-anchor="end">30</text>
<line x1="304.60" y1="338.08" x2="307.20" y2="338.08" stroke="#1e1e1e" stroke-width="1.0"/>
<text x="301.00" y="340.23" font-size="6.0" stroke="#222222" stroke-width="0.18" text-anchor="end">40</text>
<line x1="304.60" y1="325.90" x2="307.20" y2="325.90" stroke="#1e1e1e" stroke-width="1.0"/>
<text x="301.00" y="328.05" font-size="6.0" stroke="#222222" stroke-width="0.18" text-anchor="end">50</text>
<line x1="304.60" y1="313.72" x2="307.20" y2="313.72" stroke="#1e1e1e" stroke-width="1.0"/>
<text x="301.00" y="315.87" font-size="6.0" stroke="#222222" stroke-width="0.18" text-anchor="end">60</text>
<line x1="304.60" y1="301.54" x2="307.20" y2="301.54" stroke="#1e1e1e" stroke-width="1.0"/>
<text x="301.00" y="303.69" font-size="6.0" stroke="#222222" stroke-width="0.18" text-anchor="end">70</text>
<line x1="304.60" y1="289.36" x2="307.20" y2="289.36" stroke="#1e1e1e" stroke-width="1.0"/>
<text x="301.00" y="291.51" font-size="6.0" stroke="#222222" stroke-width="0.18" text-anchor="end">80</text>
<line x1="304.60" y1="277.18" x2="307.20" y2="277.18" stroke="#1e1e1e" stroke-width="1.0"/>
<text x="301.00" y="279.33" font-size="6.0" stroke="#222222" stroke-width="0.18" text-anchor="end">90</text>
<line x1="304.60" y1="265.00" x2="307.20" y2="265.00" stroke="#1e1e1e" stroke-width="1.0"/>
<text x="301.00" y="267.15" font-size="6.0" stroke="#222222" stroke-width="0.18" text-anchor="end">100</text>
<line x1="307.20" y1="386.80" x2="307.20" y2="389.10" stroke="#1e1e1e" stroke-width="1.0"/>
<text x="307.20" y="397.95" font-size="6.0" stroke="#222222" stroke-width="0.18" text-anchor="middle">0</text>
<line x1="347.28" y1="386.80" x2="347.28" y2="389.10" stroke="#1e1e1e" stroke-width="1.0"/>
<text x="347.28" y="397.95" font-size="6.0" stroke="#222222" stroke-width="0.18" text-anchor="middle">2</text>
<line x1="387.36" y1="386.80" x2="387.36" y2="389.10" stroke="#1e1e1e" stroke-width="1.0"/>
<text x="387.36" y="397.95" font-size="6.0" stroke="#222222" stroke-width="0.18" text-anchor="middle">4</text>
<line x1="427.44" y1="386.80" x2="427.44" y2="389.10" stroke="#1e1e1e" stroke-width="1.0"/>
<text x="427.44" y="397.95" font-size="6.0" stroke="#222222" stroke-width="0.18" text-anchor="middle">6</text>
<line x1="467.52" y1="386.80" x2="467.52" y2="389.10" stroke="#1e1e1e" stroke-width="1.0"/>
<text x="467.52" y="397.95" font-size="6.0" stroke="#222222" stroke-width="0.18" text-anchor="middle">8</text>
<line x1="507.60" y1="386.80" x2="507.60" y2="389.10" stroke="#1e1e1e" stroke-width="1.0"/>
<text x="507.60" y="397.95" font-size="6.0" stroke="#222222" stroke-width="0.18" text-anchor="middle">10</text>
<text x="402.70" y="409.12" font-size="7.6" stroke="#222222" stroke-width="0.18" font-weight="bold" textLength="12.30" lengthAdjust="spacingAndGlyphs">Years</text>
<text transform="translate(285.50,327.60) rotate(-90)" x="-41.50" y="0" font-size="7" font-weight="bold" textLength="83.00" lengthAdjust="spacingAndGlyphs">Progression to first treatment (%)</text>
<text x="294.20" y="419.25" font-size="6.0" stroke="#5aa35f" stroke-width="0.18" fill="#5aa35f" text-anchor="end">0</text>
<text x="307.20" y="419.25" font-size="6.0" stroke="#5aa35f" stroke-width="0.18" fill="#5aa35f" text-anchor="middle">70</text>
<text x="347.28" y="419.25" font-size="6.0" stroke="#5aa35f" stroke-width="0.18" fill="#5aa35f" text-anchor="middle">38</text>
<text x="387.36" y="419.25" font-size="6.0" stroke="#5aa35f" stroke-width="0.18" fill="#5aa35f" text-anchor="middle">20</text>
<text x="427.44" y="419.25" font-size="6.0" stroke="#5aa35f" stroke-width="0.18" fill="#5aa35f" text-anchor="middle">14</text>
<text x="467.52" y="419.25" font-size="6.0" stroke="#5aa35f" stroke-width="0.18" fill="#5aa35f" text-anchor="middle">11</text>
<text x="507.60" y="419.25" font-size="6.0" stroke="#5aa35f" stroke-width="0.18" fill="#5aa35f" text-anchor="middle">8</text>
<text x="294.20" y="429.05" font-size="6.0" stroke="#c0334f" stroke-width="0.18" fill="#c0334f" text-anchor="end">1</text>
<text x="307.20" y="429.05" font-size="6.0" stroke="#c0334f" stroke-width="0.18" fill="#c0334f" text-anchor="middle">66</text>
<text x="347.28" y="429.05" font-size="6.0" stroke="#c0334f" stroke-width="0.18" fill="#c0334f" text-anchor="middle">26</text>
<text x="387.36" y="429.05" font-size="6.0" stroke="#c0334f" stroke-width="0.18" fill="#c0334f" text-anchor="middle">17</text>
<text x="427.44" y="429.05" font-size="6.0" stroke="#c0334f" stroke-width="0.18" fill="#c0334f" text-anchor="middle">6</text>
<text x="467.52" y="429.05" font-size="6.0" stroke="#c0334f" stroke-width="0.18" fill="#c0334f" text-anchor="middle">4</text>
<text x="507.60" y="429.05" font-size="6.0" stroke="#c0334f" stroke-width="0.18" fill="#c0334f" text-anchor="middle">3</text>
<text x="294.20" y="438.75" font-size="6.0" stroke="#3a6590" stroke-width="0.18" fill="#3a6590" text-anchor="end">2+</text>
<text x="307.20" y="438.75" font-size="6.0" stroke="#3a6590" stroke-width="0.18" fill="#3a6590" text-anchor="middle">140</text>
<text x="347.28" y="438.75" font-size="6.0" stroke="#3a6590" stroke-width="0.18" fill="#3a6590" text-anchor="middle">29</text>
<text x="387.36" y="438.75" font-size="6.0" stroke="#3a6590" stroke-width="0.18" fill="#3a6590" text-anchor="middle">10</text>
<text x="427.44" y="438.75" font-size="6.0" stroke="#3a6590" stroke-width="0.18" fill="#3a6590" text-anchor="middle">2</text>
<text x="467.52" y="438.75" font-size="6.0" stroke="#3a6590" stroke-width="0.18" fill="#3a6590" text-anchor="middle">2</text>
<text x="507.60" y="438.75" font-size="6.0" stroke="#3a6590" stroke-width="0.18" fill="#3a6590" text-anchor="middle">0</text>
<line x1="346.90" y1="360.10" x2="367.70" y2="360.10" stroke="#86b890" stroke-width="1.2"/>
<line x1="346.90" y1="367.40" x2="367.70" y2="367.40" stroke="#a02c4e" stroke-width="0.95"/>
<line x1="346.90" y1="374.60" x2="367.70" y2="374.60" stroke="#5c8099" stroke-width="1.2"/>
<text x="376.50" y="354.95" font-size="6.0" stroke="#222222" stroke-width="0.18" font-weight="bold" textLength="10.40" lengthAdjust="spacingAndGlyphs">TML</text>
<text x="395.30" y="354.95" font-size="6.0" stroke="#222222" stroke-width="0.18" font-weight="bold" textLength="25.40" lengthAdjust="spacingAndGlyphs">Events/N</text>
<text x="428.50" y="354.95" font-size="6.0" stroke="#222222" stroke-width="0.18" font-weight="bold" textLength="26.80" lengthAdjust="spacingAndGlyphs">Timepoint</text>
<text x="463.20" y="354.95" font-size="6.0" stroke="#222222" stroke-width="0.18" font-weight="bold" textLength="45.60" lengthAdjust="spacingAndGlyphs">CIF Est (95% CI)</text>
<text x="381.90" y="362.25" font-size="6.0" stroke="#222222" stroke-width="0.18" text-anchor="middle">0</text>
<text x="399.70" y="362.25" font-size="6.0" stroke="#222222" stroke-width="0.18" textLength="16.60" lengthAdjust="spacingAndGlyphs">25/70</text>
<text x="433.10" y="362.25" font-size="6.0" stroke="#222222" stroke-width="0.18" textLength="18.60" lengthAdjust="spacingAndGlyphs">5 Years</text>
<text x="469.60" y="362.25" font-size="6.0" stroke="#222222" stroke-width="0.18" textLength="33.20" lengthAdjust="spacingAndGlyphs">38 (27-55%)</text>
<text x="381.90" y="369.55" font-size="6.0" stroke="#222222" stroke-width="0.18" text-anchor="middle">1</text>
<text x="399.70" y="369.55" font-size="6.0" stroke="#222222" stroke-width="0.18" textLength="16.60" lengthAdjust="spacingAndGlyphs">41/66</text>
<text x="433.10" y="369.55" font-size="6.0" stroke="#222222" stroke-width="0.18" textLength="18.60" lengthAdjust="spacingAndGlyphs">5 Years</text>
<text x="469.60" y="369.55" font-size="6.0" stroke="#222222" stroke-width="0.18" textLength="33.20" lengthAdjust="spacingAndGlyphs">70 (58-84%)</text>
<text x="381.90" y="376.75" font-size="6.0" stroke="#222222" stroke-width="0.18" text-anchor="middle">2+</text>
<text x="397.10" y="376.75" font-size="6.0" stroke="#222222" stroke-width="0.18" textLength="21.90" lengthAdjust="spacingAndGlyphs">100/140</text>
<text x="433.10" y="376.75" font-size="6.0" stroke="#222222" stroke-width="0.18" textLength="18.60" lengthAdjust="spacingAndGlyphs">5 Years</text>
<text x="469.60" y="376.75" font-size="6.0" stroke="#222222" stroke-width="0.18" textLength="33.20" lengthAdjust="spacingAndGlyphs">84 (77-92%)</text>
<text x="374.90" y="383.75" font-size="6.0" stroke="#222222" stroke-width="0.18" textLength="120.60" lengthAdjust="spacingAndGlyphs">Gray K-Sample Test <tspan font-style="italic">P</tspan>-value: &lt; .0001 + Censor</text>
<rect x="0.5" y="0.5" width="519" height="446" fill="none" stroke="#5a5a5a" stroke-width="1"/>
<rect x="1.5" y="1.5" width="517" height="444" fill="none" stroke="#c8c8c8" stroke-width="1" stroke-opacity="0.6"/>
</svg>
</body></html>
